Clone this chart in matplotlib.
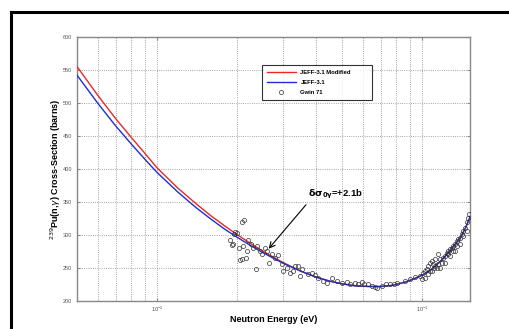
import matplotlib
matplotlib.use("Agg")
import matplotlib.pyplot as plt
from matplotlib.lines import Line2D
from matplotlib.ticker import LogLocator, NullFormatter, FixedLocator

plt.rcParams['font.family'] = ['Liberation Sans', 'DejaVu Sans']

# evaluated curves (energy in eV, cross-section in barns)
energy_eval = [0.005, 0.006, 0.007, 0.008, 0.009, 0.010, 0.012, 0.014, 0.016,
               0.018, 0.020, 0.023, 0.026, 0.030, 0.035, 0.040, 0.045, 0.050,
               0.056, 0.063, 0.070, 0.078, 0.087, 0.095, 0.100, 0.107, 0.113,
               0.120, 0.128, 0.134, 0.140, 0.146, 0.152]
jeff31 = [542, 499, 465, 438, 415, 395, 365, 342, 324,
          309, 297, 282, 270, 257, 245, 236, 230, 226,
          223, 222, 222, 224, 229, 235, 239, 246, 254,
          264, 277, 287, 297, 311, 328]
jeff31_mod = [555, 511, 476, 448, 424, 402, 371, 348, 329,
              314, 301, 285, 272, 258, 245, 236, 230, 226,
              223, 222, 222, 224, 229, 235, 239, 246, 254,
              264, 277, 287, 297, 311, 328]

# Gwin 71 measurements
gwin_e = [0.0189, 0.0192, 0.0194, 0.0195, 0.0197, 0.0200, 0.0204, 0.0206, 0.0209,
          0.0213, 0.0209, 0.0211, 0.0217, 0.0219, 0.0221, 0.0226, 0.0230, 0.0236,
          0.0239, 0.0245, 0.0249, 0.0256, 0.0260, 0.0265, 0.0272, 0.0279, 0.0286,
          0.0296, 0.0299, 0.0310, 0.0318, 0.0326, 0.0332, 0.0341, 0.0353, 0.0346,
          0.0372, 0.0385, 0.0395, 0.0405, 0.0423, 0.0438, 0.0458, 0.0478, 0.0499,
          0.0521, 0.0535, 0.0559, 0.0574, 0.0594, 0.0604, 0.0626, 0.0648, 0.0665,
          0.0676, 0.0707, 0.0732, 0.0757, 0.0784, 0.0805, 0.0863, 0.0901, 0.0941,
          0.0983, 0.1000, 0.1009, 0.1026, 0.1044, 0.1053, 0.1072, 0.1091, 0.1100,
          0.1120, 0.1139, 0.1149, 0.1169, 0.1110, 0.1091, 0.1053, 0.1190, 0.1200,
          0.1221, 0.1243, 0.1253, 0.1275, 0.1298, 0.1309, 0.1332, 0.1356, 0.1367,
          0.1391, 0.1416, 0.1428, 0.1453, 0.1479, 0.1492, 0.1505, 0.1149, 0.1120,
          0.1309, 0.1391, 0.1253, 0.1356, 0.1428, 0.1479, 0.1169, 0.1221, 0.1275,
          0.1332, 0.1072, 0.1026]
gwin_xs = [293, 285, 287, 302, 305, 303, 281, 262, 319,
           322, 264, 284, 265, 276, 293, 287, 281, 249,
           284, 276, 271, 281, 276, 258, 271, 265, 270,
           256, 246, 250, 243, 246, 253, 253, 249, 238,
           241, 243, 240, 235, 230, 227, 235, 230, 227,
           229, 226, 227, 226, 229, 226, 226, 223, 221,
           220, 223, 226, 226, 226, 227, 230, 233, 237,
           238, 233, 243, 246, 249, 253, 258, 261, 256,
           253, 250, 256, 250, 250, 246, 241, 258, 265,
           268, 273, 276, 279, 281, 284, 287, 291, 294,
           296, 302, 306, 311, 319, 326, 332, 271, 264,
           276, 287, 271, 284, 299, 306, 264, 258, 268,
           276, 246, 235]

fig = plt.figure(figsize=(5.10, 3.29), dpi=100)
ax = fig.add_axes([0.151, 0.085, 0.771, 0.803])

ax.plot(energy_eval, jeff31_mod, color='#e82a25', lw=1.0, label='JEFF-3.1 Modified          ', zorder=3)
ax.plot(energy_eval, jeff31, color='#1f2fd0', lw=1.0, label='JEFF-3.1', zorder=3)
ax.plot(gwin_e, gwin_xs, 'o', mfc='none', mec='#333333', mew=0.5, ms=3.0,
        label='Gwin 71', zorder=4)

ax.set_xscale('log')
ax.set_xlim(0.005, 0.152)
ax.set_ylim(200, 600)
ax.yaxis.set_major_locator(FixedLocator([200, 250, 300, 350, 400, 450, 500, 550, 600]))
ax.xaxis.set_major_locator(LogLocator(base=10))
ax.xaxis.set_minor_locator(LogLocator(base=10, subs=range(2, 10)))
ax.xaxis.set_minor_formatter(NullFormatter())

ax.grid(True, which='both', ls=':', color='#888888', lw=0.6)
for s in ax.spines.values():
    s.set_color('#888888')
    s.set_linewidth(1.0)
ax.tick_params(which='both', direction='in', colors='#888888', labelcolor='#555555',
               labelsize=4, length=2, top=True, right=True)
ax.tick_params(axis='x', pad=2.5)
ax.tick_params(which='minor', length=1)

ax.set_xlabel('Neutron Energy (eV)', fontsize=6.5, fontweight='bold', labelpad=1)
ax.set_ylabel(r'$^{239}$Pu(n,$\gamma$) Cross-Section (barns)', fontsize=6.5,
              fontweight='bold', labelpad=0)

ax.annotate('', xy=(0.026, 276), xytext=(0.0371, 349),
            arrowprops=dict(arrowstyle='->', color='black', lw=0.8))
ax.text(0.0372, 352, r'$\mathbf{\delta\sigma_{0\gamma}}$=+2.1b', fontsize=6.8,
        fontweight='bold', ha='left', va='bottom')

leg = ax.legend(loc='upper left', bbox_to_anchor=(0.463, 0.905),
                prop={'weight': 'bold', 'size': 4.2}, frameon=True, fancybox=False,
                handlelength=5, borderpad=0.8, labelspacing=0.9)
leg.get_frame().set_edgecolor('black')
leg.get_frame().set_linewidth(0.8)

# outer frame of the picture
fig.add_artist(Line2D([0.0216, 0.0216], [0.0, 0.9635], color='black', lw=2.2,
                      transform=fig.transFigure))
fig.add_artist(Line2D([0.0216, 1.0], [0.9635, 0.9635], color='black', lw=2.2,
                      transform=fig.transFigure))

fig.savefig('out.png', dpi=100)
